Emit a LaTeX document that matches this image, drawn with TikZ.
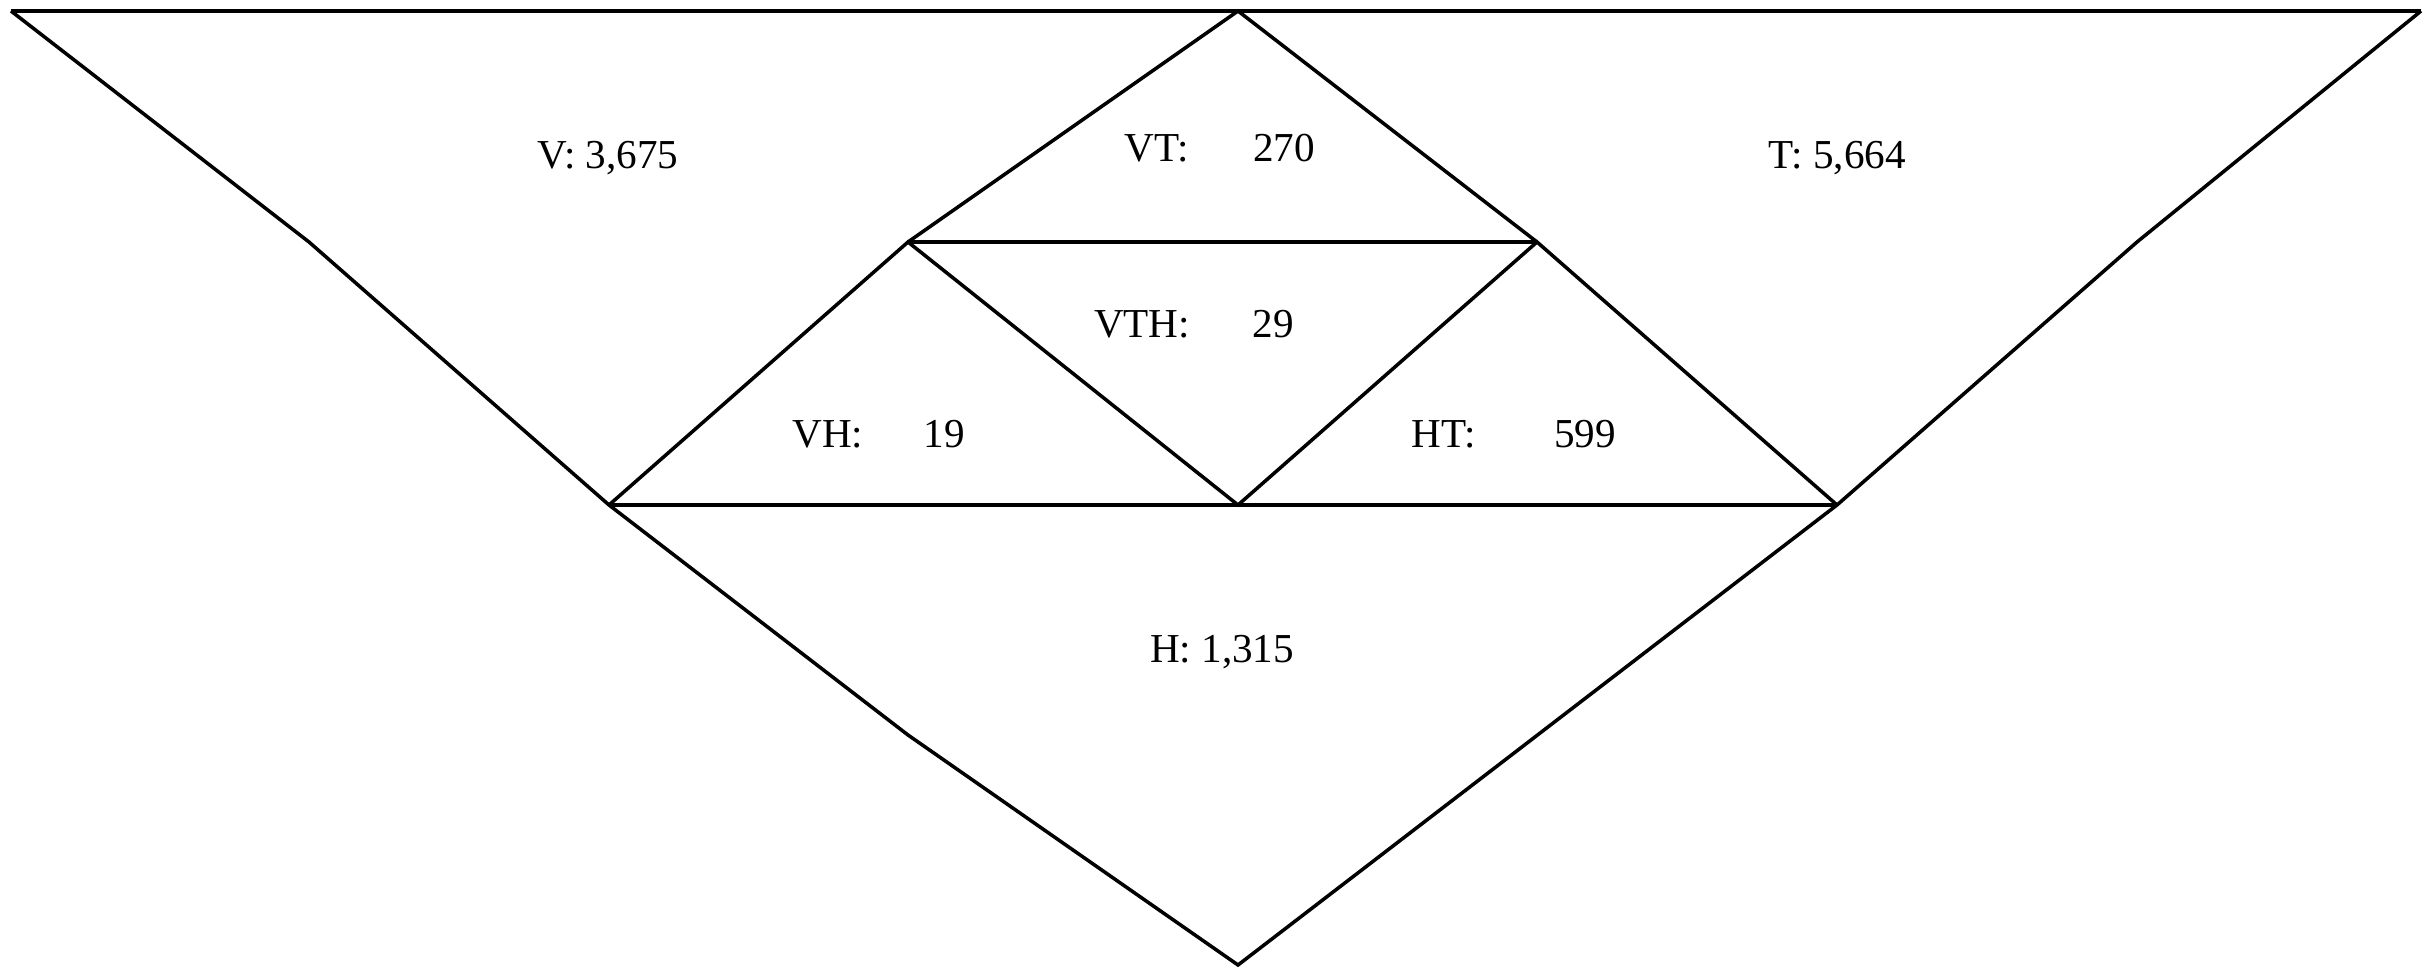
\documentclass[tikz,border=0pt]{standalone}
\usepackage{fontspec}
\setmainfont{Liberation Serif}
\usetikzlibrary{positioning}

\begin{document}
\begin{tikzpicture}[x=0.01cm, y=-0.01cm,
                edge/.style={line width=1pt, line join=miter},
                count/.style={font=\fontsize{11.7}{14}\selectfont, inner sep=0pt,
                        text height=1.5ex, text depth=0.25ex},
            ]
            \useasboundingbox (0,0) rectangle (2425,967);

            % outer points
            \coordinate (tl) at (11,11);
            \coordinate (tr) at (2421,11);
            \coordinate (top) at (1238,11);
            \coordinate (lk) at (309,242);
            \coordinate (rk) at (2137,242);
            \coordinate (lm) at (609,505);
            \coordinate (rm) at (1837,505);
            \coordinate (bk) at (908,735);
            \coordinate (bot) at (1238,965);
            % inner points
            \coordinate (il) at (908,242);
            \coordinate (ir) at (1537,242);
            \coordinate (mid) at (1238,505);

            \draw[edge] (tl) -- (tr);
            \draw[edge] (tl) -- (lk) -- (lm) -- (bk) -- (bot) -- (rm) -- (rk) -- (tr);
            \draw[edge] (il) -- (top) -- (ir);
            \draw[edge] (il) -- (ir);
            \draw[edge] (lm) -- (il) -- (mid) -- (ir) -- (rm);
            \draw[edge] (lm) -- (rm);

            \node[count] (v) at (608,158) {V: 3,675};
            \node[count] (t) at (1837,158) {T: 5,664};
            \node[count] (vt) at (1157,151) {VT:};
            \node[count] (vtn) at (1284,151) {270};
            \node[count] (vth) at (1142,327) {VTH:};
            \node[count] (vthn) at (1273,327) {29};
            \node[count] (vh) at (828,437) {VH:};
            \node[count] (vhn) at (944,437) {19};
            \node[count] (ht) at (1444,437) {HT:};
            \node[count] (htn) at (1585,437) {599};
            \node[count] (h) at (1222,652) {H: 1,315};
        \end{tikzpicture}
\end{document}
